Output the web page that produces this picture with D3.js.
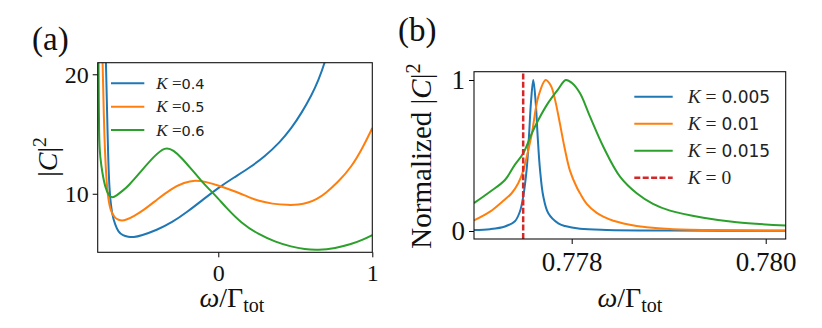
<!DOCTYPE html>
<html>
<head>
<meta charset="utf-8">
<script src="https://cdn.jsdelivr.net/npm/d3@7"></script>
<style>
  body { margin: 0; background: #fff; }
  svg { display: block; }
</style>
</head>
<body>
<script>
// ---- données ----
// panneau (a) : |C|^2 en fonction de omega/Gamma_tot
const labelsA = ["0.4", "0.5", "0.6"];
const wA_04 = [-0.735, -0.729, -0.718, -0.708, -0.69, -0.669, -0.649, -0.62, -0.584, -0.552, -0.5, -0.4, -0.3, -0.2, -0.1, 0, 0.1, 0.2, 0.3, 0.4, 0.476, 0.54, 0.606, 0.65, 0.693, 0.72];
const cA_04 = [23, 21, 14.39, 10.2, 8.24, 7.4, 6.8, 6.5, 6.4, 6.35, 6.5, 6.96, 7.6, 8.5, 9.5, 10.5, 11.35, 12.15, 13.1, 14.3, 15.5, 16.75, 18.25, 19.5, 21, 22.4];
const wA_05 = [-0.755, -0.751, -0.74, -0.723, -0.701, -0.67, -0.647, -0.627, -0.6, -0.55, -0.476, -0.4, -0.303, -0.22, -0.151, -0.08, 0, 0.1, 0.2, 0.26, 0.35, 0.455, 0.52, 0.584, 0.64, 0.693, 0.78, 0.866, 0.94, 1.0];
const cA_05 = [23, 21, 14.39, 10.2, 8.53, 7.95, 7.82, 7.74, 7.8, 8.1, 8.7, 9.5, 10.45, 10.95, 11.15, 11.0, 10.7, 10.25, 9.7, 9.4, 9.15, 9.05, 9.08, 9.25, 9.55, 10.0, 11.0, 12.26, 13.9, 15.5];
const wA_06 = [-0.781, -0.777, -0.775, -0.766, -0.755, -0.734, -0.71, -0.69, -0.66, -0.617, -0.584, -0.5, -0.42, -0.346, -0.29, -0.238, -0.184, -0.108, -0.065, 0, 0.043, 0.152, 0.26, 0.368, 0.476, 0.56, 0.649, 0.758, 0.866, 0.94, 1.0];
const cA_06 = [23, 21, 14.4, 12.99, 11.9, 10.48, 9.85, 9.64, 9.85, 10.3, 10.65, 11.9, 13.1, 13.95, 13.65, 13.0, 12.2, 11.06, 10.45, 9.6, 8.95, 7.5, 6.62, 5.98, 5.56, 5.35, 5.28, 5.43, 5.79, 6.15, 6.54];

// panneau (b) : |C|^2 normalisé
const labelsB = ["0.005", "0.01", "0.015"];
const wB_005 = [0.776993, 0.777158, 0.777312, 0.777415, 0.777467, 0.777501, 0.777536, 0.77756, 0.77758, 0.777604, 0.777629, 0.777649, 0.777673, 0.777707, 0.777759, 0.777862, 0.777931, 0.778086, 0.778361, 0.779013, 0.780206];
const cB_005 = [0.006, 0.012, 0.03, 0.065, 0.13, 0.23, 0.41, 0.63, 0.85, 1.0, 0.85, 0.63, 0.41, 0.23, 0.117, 0.05, 0.033, 0.015, 0.007, 0.003, 0.001];
const wB_01 = [0.776993, 0.777158, 0.777295, 0.777381, 0.777449, 0.777501, 0.777536, 0.777588, 0.777656, 0.777732, 0.777787, 0.777828, 0.777879, 0.777924, 0.777982, 0.778052, 0.778086, 0.778155, 0.778258, 0.778326, 0.778429, 0.77867, 0.778773, 0.779013, 0.77946, 0.780206];
const cB_01 = [0.07, 0.128, 0.2, 0.25, 0.316, 0.4, 0.49, 0.64, 0.89, 1.0, 0.96, 0.87, 0.71, 0.56, 0.4, 0.29, 0.25, 0.18, 0.12, 0.095, 0.068, 0.033, 0.025, 0.014, 0.007, 0.003];
const wB_015 = [0.776993, 0.777158, 0.777312, 0.777415, 0.777501, 0.777588, 0.777656, 0.777759, 0.777862, 0.777939, 0.778003, 0.778086, 0.778189, 0.778326, 0.778498, 0.77867, 0.778838, 0.779013, 0.779357, 0.779701, 0.780206];
const cB_015 = [0.185, 0.26, 0.338, 0.44, 0.515, 0.645, 0.735, 0.85, 0.94, 1.0, 0.98, 0.912, 0.757, 0.558, 0.36, 0.25, 0.18, 0.135, 0.088, 0.058, 0.036];
const wB_K0 = 0.7775; // K = 0, ligne pointillée

const ticksA_x = [0, 1];
const ticksA_y = [10, 20];
const ticksB_x = [0.778, 0.780];
const ticksB_y = [0, 1];

const colors = ["#1f77b4", "#ff7f0e", "#2ca02c", "#d62728"];
const serif = "'Liberation Serif', 'Times New Roman', serif";
const sans = "'DejaVu Sans', sans-serif";

let svg = d3.select("body").append("svg")
    .attr("width", 822)
    .attr("height", 328);

svg.append("rect").attr("width", 822).attr("height", 328).attr("fill", "#fff");

//---- échelles ----
let boxA = { left: 97.7, right: 372.3, top: 62.7, bottom: 252.3 };
let boxB = { left: 474, right: 785.7, top: 71.7, bottom: 239 };

let xA = d3.scaleLinear().domain([-0.783, 1]).range([boxA.left, boxA.right]);
let yA = d3.scaleLinear().domain([5.1, 20.97]).range([boxA.bottom, boxA.top]);
let xB = d3.scaleLinear().domain([0.776993, 0.780206]).range([boxB.left, boxB.right]);
let yB = d3.scaleLinear().domain([-0.053, 1.055]).range([boxB.bottom, boxB.top]);

// clip pour chaque panneau
let defs = svg.append("defs");
[["clipA", boxA], ["clipB", boxB]].forEach(([id, b]) => {
    defs.append("clipPath").attr("id", id)
        .append("rect")
        .attr("x", b.left).attr("y", b.top)
        .attr("width", b.right - b.left).attr("height", b.bottom - b.top);
});

// (a) : courbes larges -> b-spline pour lisser la lecture ; (b) : pics fins -> catmull-rom
function drawLine(clipId, x, y, ws, cs, color, curve) {
    let pts = ws.map((w, i) => [w, cs[i]]);
    let line = d3.line()
        .x(d => x(d[0]))
        .y(d => y(d[1]))
        .curve(curve);
    svg.append("path")
        .attr("clip-path", "url(#" + clipId + ")")
        .attr("d", line(pts))
        .attr("fill", "none")
        .attr("stroke", color)
        .attr("stroke-width", 2)
        .attr("stroke-linejoin", "round");
}

//---- courbes (a) ----
drawLine("clipA", xA, yA, wA_04, cA_04, colors[0], d3.curveBasis);
drawLine("clipA", xA, yA, wA_05, cA_05, colors[1], d3.curveBasis);
drawLine("clipA", xA, yA, wA_06, cA_06, colors[2], d3.curveBasis);

//---- courbes (b) ----
let crB = d3.curveCatmullRom.alpha(0.5);
drawLine("clipB", xB, yB, wB_005, cB_005, colors[0], crB);
drawLine("clipB", xB, yB, wB_01, cB_01, colors[1], crB);
drawLine("clipB", xB, yB, wB_015, cB_015, colors[2], crB);

svg.append("line")
    .attr("x1", xB(wB_K0)).attr("x2", xB(wB_K0))
    .attr("y1", yB(yB.domain()[0])).attr("y2", yB(yB.domain()[1]))
    .attr("stroke", colors[3])
    .attr("stroke-width", 2.5)
    .attr("stroke-dasharray", "6,2.4");

//---- axes ----
function styleAxis(g, size) {
    g.select(".domain").remove();
    g.selectAll(".tick line").attr("stroke", "#000").attr("stroke-width", 1);
    g.selectAll(".tick text")
        .attr("fill", "#111")
        .attr("font-family", serif)
        .style("font-family", serif)
        .style("font-size", size + "px");
}

svg.append("g")
    .attr("transform", "translate(" + boxA.left + ",0)")
    .call(d3.axisLeft(yA).tickValues(ticksA_y).tickSize(5).tickPadding(4).tickFormat(d3.format("d")))
    .call(g => styleAxis(g, 24))
    .selectAll(".tick text").attr("dy", "0.33em");

svg.append("g")
    .attr("transform", "translate(0," + boxA.bottom + ")")
    .call(d3.axisBottom(xA).tickValues(ticksA_x).tickSize(5).tickPadding(4).tickFormat(d3.format("d")))
    .call(g => styleAxis(g, 24))
    .selectAll(".tick text").attr("y", 28.5).attr("dy", 0);

svg.append("g")
    .attr("transform", "translate(" + boxB.left + ",0)")
    .call(d3.axisLeft(yB).tickValues(ticksB_y).tickSize(5).tickPadding(4).tickFormat(d3.format("d")))
    .call(g => styleAxis(g, 27))
    .selectAll(".tick text").attr("dy", "0.33em");

svg.append("g")
    .attr("transform", "translate(0," + boxB.bottom + ")")
    .call(d3.axisBottom(xB).tickValues(ticksB_x).tickSize(5).tickPadding(4).tickFormat(d3.format(".3f")))
    .call(g => styleAxis(g, 27))
    .selectAll(".tick text").attr("y", 32).attr("dy", 0);

// cadres
[boxA, boxB].forEach(b => {
    svg.append("rect")
        .attr("x", b.left).attr("y", b.top)
        .attr("width", b.right - b.left).attr("height", b.bottom - b.top)
        .attr("fill", "none")
        .attr("stroke", "#111")
        .attr("stroke-width", 1.1);
});

//---- titres d'axes ----
function omegaLabel(cx) {
    let t = svg.append("text")
        .attr("x", cx).attr("y", 306.5)
        .attr("text-anchor", "middle")
        .style("font-family", serif)
        .style("font-size", "28px")
        .attr("fill", "#111");
    t.append("tspan").style("font-style", "italic").text("ω");
    t.append("tspan").text("/Γ");
    t.append("tspan").attr("dy", "0.25em").style("font-size", "20px").text("tot");
}
omegaLabel((boxA.left + boxA.right) / 2 - 3);
omegaLabel((boxB.left + boxB.right) / 2);

function cLabel(x, y, prefix, size) {
    let t = svg.append("text")
        .attr("transform", "translate(" + x + "," + y + ") rotate(-90)")
        .attr("text-anchor", "middle")
        .style("font-family", serif)
        .style("font-size", size + "px")
        .attr("fill", "#111");
    if (prefix) t.append("tspan").text(prefix + " ");
    t.append("tspan").text("|");
    t.append("tspan").style("font-style", "italic").text("C");
    t.append("tspan").text("|");
    t.append("tspan").attr("dy", "-0.55em").style("font-size", (size * 0.7) + "px").text("2");
}
cLabel(57, 157, "", 28);
cLabel(431, 156, "Normalized", 29);

// lettres des panneaux
svg.append("text").text("(a)")
    .attr("x", 32).attr("y", 50)
    .style("font-family", serif).style("font-size", "33px").attr("fill", "#111");
svg.append("text").text("(b)")
    .attr("x", 398).attr("y", 41)
    .style("font-family", serif).style("font-size", "33px").attr("fill", "#111");

//---- légendes ----
function legend(x0, y0, dy, len, labels, serifSize, sansSize, eqText) {
    labels.forEach((lab, i) => {
        let y = y0 + i * dy;
        let ln = svg.append("line")
            .attr("x1", x0).attr("x2", x0 + len)
            .attr("y1", y).attr("y2", y)
            .attr("stroke", colors[i])
            .attr("stroke-width", i == 3 ? 2.5 : 2);
        if (i == 3) ln.attr("stroke-dasharray", "6,2.4");
        let t = svg.append("text")
            .attr("x", x0 + len + (len > 35 ? 15 : 12))
            .attr("y", y + serifSize * 0.33)
            .attr("fill", "#222");
        t.append("tspan").style("font-family", serif).style("font-style", "italic")
            .style("font-size", serifSize + "px").text("K");
        t.append("tspan").style("font-family", serif)
            .style("font-size", serifSize + "px").text(eqText);
        t.append("tspan").style("font-family", lab == "0" ? serif : sans)
            .style("font-size", (lab == "0" ? serifSize : sansSize) + "px").text(lab);
    });
}
legend(111, 83.3, 23.35, 33.3, labelsA, 17, 14.5, " =");
legend(634.3, 96.7, 27, 38.4, labelsB.concat(["0"]), 19.5, 17, " = ");
</script>
</body>
</html>
